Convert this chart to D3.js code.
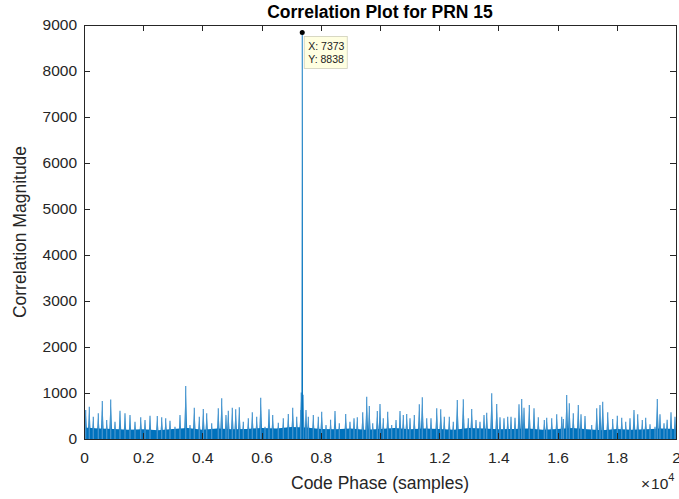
<!DOCTYPE html>
<html>
<head>
<meta charset="utf-8">
<script src="https://cdn.jsdelivr.net/npm/d3@7"></script>
<style>
  html, body { margin: 0; padding: 0; background: #fff; }
  svg { display: block; font-family: "Liberation Sans", Arial, Helvetica, sans-serif; }
  .axis path, .axis line { stroke: #262626; shape-rendering: crispEdges; }
  .axis text { fill: #262626; font-size: 15.5px; }
</style>
</head>
<body>
<svg id="chart" width="679" height="499"></svg>
<script>
// Correlation output (code phase in samples, magnitude)
const peakPhase = 7373;
const peakMag = 8838;

// local maxima of the noise floor, left to right
const spikePhase = [57, 179, 314, 483, 618, 767, 902, 1047, 1216, 1385, 1554, 1723, 1916, 2061, 2230, 2476, 2625, 2760, 2905, 3074,
  3243, 3436, 3581, 3726, 3895, 4030, 4145, 4314, 4537, 4652, 4797, 4875, 5010, 5125, 5247, 5382, 5551, 5686, 5834, 5970,
  6115, 6250, 6375, 6564, 6733, 6902, 7051, 7186, 7321, 7340, 7400, 7500, 7578, 7747, 7916, 8030, 8176, 8330, 8480, 8625,
  8841, 8986, 9122, 9233, 9416, 9551, 9639, 9754, 9909, 10000, 10111, 10260, 10395, 10541, 10676, 10787, 10902, 11014, 11159, 11328,
  11429, 11578, 11723, 11916, 12051, 12172, 12341, 12476, 12611, 12814, 12983, 13098, 13243, 13378, 13514, 13605, 13774, 13943, 14054, 14189,
  14314, 14426, 14561, 14696, 14787, 14865, 15044, 15203, 15348, 15551, 15632, 15801, 15970, 16139, 16193, 16307, 16395, 16530, 16699, 16791,
  16926, 17152, 17321, 17432, 17524, 17693, 17861, 18017, 18166, 18301, 18446, 18581, 18706, 18861, 18976, 19122, 19291, 19368, 19459, 19595,
  19700, 19831, 19966];
const spikeMag = [630, 702, 485, 558, 826, 413, 860, 377, 616, 558, 522, 377, 471, 413, 507, 500, 471, 449, 398, 268,
  522, 1152, 304, 681, 485, 652, 558, 341, 667, 884, 522, 616, 681, 645, 688, 377, 449, 580, 485, 898,
  268, 645, 522, 355, 449, 543, 681, 485, 630, 1010, 960, 630, 485, 522, 485, 594, 304, 420, 609, 341,
  543, 377, 449, 471, 580, 920, 717, 341, 609, 761, 449, 594, 304, 413, 609, 522, 543, 449, 522, 754,
  906, 449, 449, 667, 645, 485, 485, 377, 848, 862, 449, 652, 413, 377, 522, 572, 993, 761, 471, 449,
  485, 485, 464, 754, 870, 681, 739, 667, 471, 413, 464, 449, 536, 485, 435, 957, 775, 558, 739, 536,
  500, 304, 667, 739, 812, 580, 435, 507, 464, 377, 449, 630, 536, 413, 464, 319, 268, 870, 536, 341,
  420, 580, 485];

// solid part of the noise band
const floorPhase = [0, 500, 1000, 1500, 2000, 2500, 3000, 3500, 4000, 4500, 5000, 5500, 6000, 6500, 7000, 7500, 8000, 8500, 9000, 9500,
  10000, 10500, 11000, 11500, 12000, 12500, 13000, 13500, 14000, 14500, 15000, 15500, 16000, 16500, 17000, 17500, 18000, 18500, 19000, 19500, 20000];
const floorMag = [250, 230, 220, 200, 210, 190, 220, 240, 200, 230, 210, 220, 240, 230, 260, 250, 220, 210, 230, 200,
  220, 240, 210, 230, 220, 200, 240, 230, 210, 220, 230, 200, 220, 240, 210, 190, 220, 200, 210, 230, 220];

const xTicks = [0, 2000, 4000, 6000, 8000, 10000, 12000, 14000, 16000, 18000, 20000];
const yTicks = [0, 1000, 2000, 3000, 4000, 5000, 6000, 7000, 8000, 9000];

drawChart();

function drawChart(){
    let svg = d3.select('#chart');

    let left = 84, right = 676, top = 25, bottom = 439;
    let lineColor = '#0072BD';

    let x = d3.scaleLinear().domain([0, 20000]).range([left, right]);
    let y = d3.scaleLinear().domain([0, 9000]).range([bottom, top]);

    svg.append('clipPath').attr('id', 'plotClip')
        .append('rect')
        .attr('x', left).attr('y', top)
        .attr('width', right - left).attr('height', bottom - top);

    let plot = svg.append('g').attr('clip-path', 'url(#plotClip)');

    // dense band near zero
    let band = d3.area()
        .x((d, i) => x(floorPhase[i]))
        .y0(y(0))
        .y1(d => y(d));
    plot.append('path')
        .datum(floorMag)
        .attr('d', band)
        .attr('fill', lineColor);

    // spikes drawn as narrow tents, half width in samples
    let half = 62;
    function spikePath(p, m, w){
        return 'M' + x(p - w) + ',' + y(0) +
               'L' + x(p - w * 0.3) + ',' + y(m * 0.7) +
               'L' + x(p) + ',' + y(m) +
               'L' + x(p + w * 0.3) + ',' + y(m * 0.7) +
               'L' + x(p + w) + ',' + y(0) + 'Z';
    }
    let spikes = spikePhase.map((p, i) => ({phase: p, mag: spikeMag[i]}));
    plot.selectAll('.spike')
        .data(spikes)
        .enter()
        .append('path')
        .attr('class', 'spike')
        .attr('d', d => spikePath(d.phase, d.mag, half))
        .attr('fill', lineColor)
        .attr('fill-opacity', 0.9);
    // thin tips
    plot.selectAll('.tip')
        .data(spikes)
        .enter()
        .append('line')
        .attr('class', 'tip')
        .attr('x1', d => x(d.phase)).attr('x2', d => x(d.phase))
        .attr('y1', y(0)).attr('y2', d => y(d.mag))
        .attr('stroke', '#4a97d0').attr('stroke-width', 1.2);

    // the correlation peak
    plot.append('path')
        .attr('d', spikePath(peakPhase, peakMag, 25))
        .attr('fill', lineColor);
    plot.append('line')
        .attr('x1', x(peakPhase)).attr('x2', x(peakPhase))
        .attr('y1', y(0)).attr('y2', y(peakMag))
        .attr('stroke', lineColor).attr('stroke-width', 0.9);

    // axes with inward ticks, box on top and right
    let fmt = d => d3.format('~g')(d / 10000);
    svg.append('g').attr('class', 'axis')
        .attr('transform', 'translate(0,' + bottom + ')')
        .call(d3.axisBottom(x).tickValues(xTicks).tickFormat(fmt).tickSizeInner(-6).tickSizeOuter(0).tickPadding(13));
    svg.append('g').attr('class', 'axis')
        .attr('transform', 'translate(0,' + top + ')')
        .call(d3.axisTop(x).tickValues(xTicks).tickFormat('').tickSizeInner(-6).tickSizeOuter(0));
    svg.append('g').attr('class', 'axis')
        .attr('transform', 'translate(' + left + ',0)')
        .call(d3.axisLeft(y).tickValues(yTicks).tickFormat(d3.format('d')).tickSizeInner(-6).tickSizeOuter(0).tickPadding(7));
    svg.append('g').attr('class', 'axis')
        .attr('transform', 'translate(' + right + ',0)')
        .call(d3.axisRight(y).tickValues(yTicks).tickFormat('').tickSizeInner(-6).tickSizeOuter(0));
    svg.selectAll('.axis .domain').attr('stroke-width', 1);

    // exponent label
    let expo = svg.append('text')
        .attr('x', 641).attr('y', 489)
        .attr('fill', '#262626')
        .style('font-size', '15.5px');
    expo.append('tspan').text('\u00d7');
    expo.append('tspan').attr('dx', 1).text('10');
    expo.append('tspan').attr('dy', -8).style('font-size', '11px').text('4');

    // titles
    svg.append('text')
        .attr('x', (left + right) / 2).attr('y', 18)
        .attr('text-anchor', 'middle')
        .attr('fill', '#000')
        .style('font-size', '17.5px').style('font-weight', 'bold')
        .text('Correlation Plot for PRN 15');
    svg.append('text')
        .attr('x', (left + right) / 2).attr('y', 489)
        .attr('text-anchor', 'middle')
        .attr('fill', '#262626')
        .style('font-size', '17.5px')
        .text('Code Phase (samples)');
    svg.append('text')
        .attr('transform', 'translate(26,' + (top + bottom) / 2 + ') rotate(-90)')
        .attr('text-anchor', 'middle')
        .attr('fill', '#262626')
        .style('font-size', '17.5px')
        .text('Correlation Magnitude');

    // data tip
    let tx = x(peakPhase), ty = y(peakMag);
    let tip = svg.append('g');
    tip.append('rect')
        .attr('x', tx + 2).attr('y', ty + 4)
        .attr('width', 43).attr('height', 32)
        .attr('fill', '#ffffe1')
        .attr('stroke', '#cfcfb8').attr('stroke-width', 0.8);
    tip.append('text')
        .attr('x', tx + 6).attr('y', ty + 18)
        .attr('fill', '#222').style('font-size', '10.5px')
        .text('X: ' + peakPhase);
    tip.append('text')
        .attr('x', tx + 6).attr('y', ty + 31)
        .attr('fill', '#222').style('font-size', '10.5px')
        .text('Y: ' + peakMag);
    tip.append('circle')
        .attr('cx', tx).attr('cy', ty).attr('r', 2.5)
        .attr('fill', '#000');
}
</script>
</body>
</html>
